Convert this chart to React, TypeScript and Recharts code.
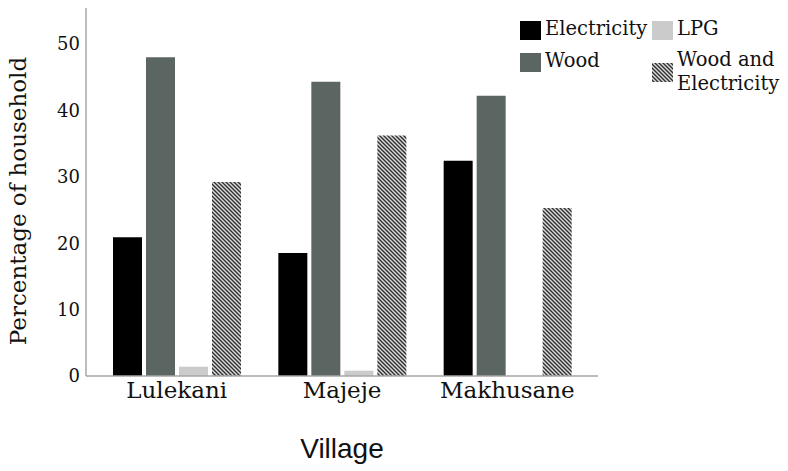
import { BarChart, Bar, XAxis, YAxis, Legend, Label } from 'recharts';

// villages and share of households (%) by main energy source
const villages = ['Lulekani', 'Majeje', 'Makhusane'];
const electricity = [20.9, 18.5, 32.4];
const wood = [48.0, 44.3, 42.2];
const lpg = [1.4, 0.8, 0];
const woodAndElectricity = [29.2, 36.2, 25.3];
const yTicks = [0, 10, 20, 30, 40, 50];

const data = villages.map((village, i) => ({
  village,
  electricity: electricity[i],
  wood: wood[i],
  lpg: lpg[i],
  woodElec: woodAndElectricity[i],
}));

const SERIF = "'DejaVu Serif', 'Liberation Serif', serif";
const AXIS_GRAY = '#a6a6a6';

// legend slots, laid out like the original two-column key
const legendSlots: Record<string, { x: number; y: number; lines: string[]; baselines: number[] }> = {
  Electricity: { x: 520, y: 21, lines: ['Electricity'], baselines: [35] },
  LPG: { x: 652, y: 21, lines: ['LPG'], baselines: [35] },
  Wood: { x: 520, y: 53, lines: ['Wood'], baselines: [67] },
  'Wood and Electricity': { x: 652, y: 63, lines: ['Wood and', 'Electricity'], baselines: [66, 90] },
};

function renderLegend(props: any) {
  const payload = props.payload || [];
  return (
    <svg width={788} height={100} style={{ display: 'block' }}>
      {payload.map((entry: any) => {
        const slot = legendSlots[entry.value];
        if (!slot) return null;
        return (
          <g key={entry.value}>
            <rect x={slot.x} y={slot.y} width={21} height={19} fill={entry.color} />
            {slot.lines.map((line, j) => (
              <text
                key={line}
                x={slot.x + 25}
                y={slot.baselines[j]}
                fontFamily={SERIF}
                fontSize={19.5}
                fill="#111"
              >
                {line}
              </text>
            ))}
          </g>
        );
      })}
    </svg>
  );
}

function YTitle(props: any) {
  const vb = props.viewBox || { x: 0, y: 8, height: 368 };
  const cx = 26;
  const cy = vb.y + vb.height / 2 + 9;
  return (
    <text
      x={cx}
      y={cy}
      transform={`rotate(-90 ${cx} ${cy})`}
      textAnchor="middle"
      fontFamily={SERIF}
      fontSize={23}
      fill="#111"
    >
      Percentage of household
    </text>
  );
}

export default function App() {
  return (
    <div style={{ position: 'absolute', left: 0, top: 0, background: '#fff' }}>
      <BarChart
        width={788}
        height={471}
        data={data}
        margin={{ top: 8, right: 190, bottom: 0, left: 0 }}
        barSize={29}
        barGap={4}
      >
        <defs>
          <pattern id="hatch" width={4} height={4} patternUnits="userSpaceOnUse">
            <rect width={4} height={4} fill="#dcdcdc" />
            <path d="M-1,-1 L5,5 M-1,3 L1,5 M3,-1 L5,1" stroke="#2e2e2e" strokeWidth={1.4} />
          </pattern>
        </defs>
        <XAxis
          dataKey="village"
          height={95}
          padding={{ left: 8, right: 8 }}
          tickLine={false}
          tickSize={0}
          tickMargin={6}
          stroke={AXIS_GRAY}
          strokeWidth={1.5}
          tick={{ fill: '#111', fontSize: 23, fontFamily: SERIF }}
        >
          <Label
            value="Village"
            position="insideBottom"
            offset={13}
            style={{ fontFamily: "'Liberation Sans', Arial, sans-serif", fontSize: 28, fill: '#111' }}
          />
        </XAxis>
        <YAxis
          width={86}
          domain={[0, 55.4]}
          ticks={yTicks}
          tickLine={false}
          tickSize={0}
          tickMargin={6}
          stroke={AXIS_GRAY}
          strokeWidth={1.5}
          tick={{ fill: '#111', fontSize: 18, fontFamily: SERIF }}
          label={<YTitle />}
        />
        <Legend
          layout="horizontal"
          verticalAlign="middle"
          align="center"
          wrapperStyle={{ position: 'absolute', left: 0, top: 0, width: 788, height: 100 }}
          content={renderLegend}
        />
        <Bar dataKey="electricity" name="Electricity" fill="#000000" isAnimationActive={false} />
        <Bar dataKey="wood" name="Wood" fill="#5b6561" isAnimationActive={false} />
        <Bar dataKey="lpg" name="LPG" fill="#cbcbcb" isAnimationActive={false} />
        <Bar dataKey="woodElec" name="Wood and Electricity" fill="url(#hatch)" isAnimationActive={false} />
      </BarChart>
    </div>
  );
}
